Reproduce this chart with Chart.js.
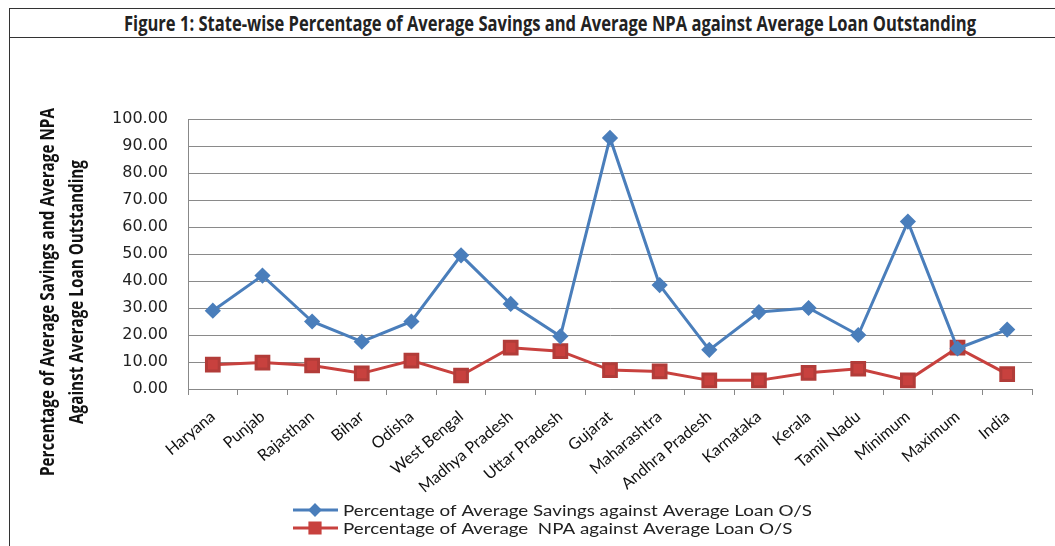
<!DOCTYPE html>
<html>
<head>
<meta charset="utf-8">
<script src="https://cdn.jsdelivr.net/npm/chart.js@4/dist/chart.umd.min.js"></script>
<style>
    html, body { margin: 0; padding: 0; background: #fff; }
    body { width: 1055px; height: 546px; overflow: hidden; position: relative; }
    #frame {
        position: absolute; left: 9px; top: 8px; width: 1060px; height: 560px;
        border-left: 1.5px solid #333; border-top: 1.5px solid #333;
    }
    #heading {
        position: relative; height: 28px; border-bottom: 1.5px solid #333; width: 1046px;
    }
    #heading span {
        position: absolute; left: 540px; top: 0; white-space: nowrap;
        font: bold 21px "Open Sans", sans-serif; color: #222; line-height: 28px;
        transform-origin: 0 50%;
    }
    #wrap { position: absolute; left: 10px; top: 38px; width: 1045px; height: 508px; }
</style>
</head>
<body>
<div id="frame"><div id="heading"><span id="headingText">Figure 1: State-wise Percentage of Average Savings and Average NPA against Average Loan Outstanding</span></div></div>
<div id="wrap"><canvas id="grafica"></canvas></div>
<script>
// --- datos ---
const states = ["Haryana", "Punjab", "Rajasthan", "Bihar", "Odisha", "West Bengal", "Madhya Pradesh",
    "Uttar Pradesh", "Gujarat", "Maharashtra", "Andhra Pradesh", "Karnataka", "Kerala", "Tamil Nadu",
    "Minimum", "Maximum", "India"];
const savingsPct = [29.0, 42.0, 25.0, 17.5, 25.0, 49.5, 31.5, 19.5, 93.0, 38.5, 14.5, 28.5, 30.0, 20.0, 62.0, 15.0, 22.0];
const npaPct = [9.0, 9.8, 8.7, 5.8, 10.5, 5.0, 15.3, 14.0, 7.0, 6.5, 3.2, 3.2, 6.0, 7.5, 3.2, 15.3, 5.5];
const yTicks = [0, 10, 20, 30, 40, 50, 60, 70, 80, 90, 100];
const yTitle = ["Percentage of Average Savings and Average NPA", "Against Average Loan Outstanding"];
const seriesNames = ["Percentage of Average Savings against Average Loan O/S",
    "Percentage of Average  NPA against Average Loan O/S"];

const BLUE = "#4a7ebb";
const RED = "#c8413e";

// encabezado en negrita angosta: se comprime en X hasta 852px
(function () {
    const span = document.getElementById("headingText");
    const w = span.getBoundingClientRect().width;
    const sx = 852 / w;
    span.style.transform = "translateX(" + (-426 + 0) + "px) scaleX(" + sx + ")";
})();

// titulo vertical en dos lineas (fuente comprimida)
const yTitlePlugin = {
    id: "yTitle",
    afterDraw(chart) {
        const { ctx, chartArea } = chart;
        ctx.save();
        ctx.font = "bold 20px 'Open Sans', sans-serif";
        ctx.fillStyle = "#111";
        ctx.textAlign = "center";
        ctx.textBaseline = "middle";
        const sx = 368 / ctx.measureText(yTitle[0]).width;
        const cy = chartArea.top + 173;
        [38, 67].forEach((x, i) => {
            ctx.save();
            ctx.translate(x, cy);
            ctx.rotate(-Math.PI / 2);
            ctx.scale(sx, 1);
            ctx.fillText(yTitle[i], 0, 0);
            ctx.restore();
        });
        ctx.restore();
    }
};

// leyenda abajo, filas alineadas a la izquierda
const legendPlugin = {
    id: "leyenda",
    afterDraw(chart) {
        const { ctx } = chart;
        ctx.save();
        ctx.font = "16px Lato, sans-serif";
        ctx.textBaseline = "middle";
        const sx = 469 / ctx.measureText(seriesNames[0]).width;
        chart.data.datasets.forEach((ds, i) => {
            const y = 472 + i * 18;
            const x0 = 283;
            ctx.strokeStyle = ds.borderColor;
            ctx.lineWidth = 3;
            ctx.beginPath();
            ctx.moveTo(x0, y);
            ctx.lineTo(x0 + 45, y);
            ctx.stroke();
            Chart.helpers.drawPoint(ctx, {
                pointStyle: ds.pointStyle,
                radius: ds.pointRadius * 0.8,
                borderWidth: 1
            }, x0 + 22, y);
            ctx.fillStyle = ds.pointBackgroundColor;
            ctx.fill();
            ctx.save();
            ctx.translate(x0 + 50, y + 1);
            ctx.scale(sx, 1);
            ctx.fillStyle = "#222";
            ctx.fillText(ds.label, 0, 0);
            ctx.restore();
        });
        ctx.restore();
    }
};

new Chart(document.getElementById("grafica"), {
    type: "line",
    data: {
        labels: states,
        datasets: [{
            label: seriesNames[0],
            data: savingsPct,
            borderColor: BLUE,
            backgroundColor: BLUE,
            pointBackgroundColor: BLUE,
            pointBorderColor: BLUE,
            pointStyle: "rectRot",
            pointRadius: 6,
            borderWidth: 3,
            tension: 0
        }, {
            label: seriesNames[1],
            data: npaPct,
            borderColor: RED,
            backgroundColor: RED,
            pointBackgroundColor: RED,
            pointBorderColor: "#b23c39",
            pointStyle: "rect",
            pointRadius: 9,
            borderWidth: 3,
            tension: 0
        }]
    },
    options: {
        responsive: true,
        maintainAspectRatio: false,
        animation: false,
        layout: { padding: { top: 81, right: 23, bottom: 0, left: 0 } },
        plugins: {
            legend: { display: false },
            tooltip: { enabled: false }
        },
        scales: {
            x: {
                offset: true,
                grid: { offset: true, drawOnChartArea: false, drawTicks: true, tickLength: 6, color: "#888" },
                border: { color: "#888", width: 1 },
                ticks: {
                    autoSkip: false,
                    maxRotation: 40,
                    minRotation: 40,
                    padding: 12,
                    color: "#111",
                    font: { family: "Lato, sans-serif", size: 16 }
                },
                afterFit(scale) { scale.height = 157; }
            },
            y: {
                min: 0,
                max: 100,
                afterBuildTicks(scale) { scale.ticks = yTicks.map(v => ({ value: v })); },
                grid: { drawTicks: false, color: "#8a8a8a", lineWidth: 1 },
                border: { color: "#888", width: 1 },
                ticks: {
                    padding: 20,
                    color: "#222",
                    font: { family: "'DejaVu Sans', sans-serif", size: 16 },
                    callback: v => v.toFixed(2)
                },
                afterFit(scale) { scale.width = 178; }
            }
        }
    },
    plugins: [yTitlePlugin, legendPlugin]
});
</script>
</body>
</html>
